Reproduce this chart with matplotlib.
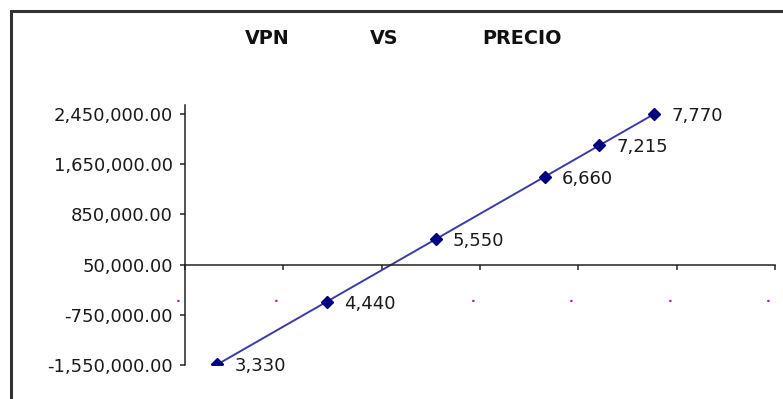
import matplotlib
matplotlib.use("Agg")
import matplotlib.pyplot as plt
from matplotlib.patches import Rectangle
from matplotlib.ticker import FuncFormatter

# precio de venta vs valor presente neto
precio = [3330, 4440, 5550, 6660, 7215, 7770]
vpn = [-1540000, -542000, 456000, 1453000, 1952000, 2450000]
etiquetas = ["3,330", "4,440", "5,550", "6,660", "7,215", "7,770"]
y_ticks = [-1550000, -750000, 50000, 850000, 1650000, 2450000]
x_ticks = [3000, 4000, 5000, 6000, 7000, 8000, 9000]
# el punto de 5000 queda tapado por la etiqueta 4,440
x_puntos = [3000, 4000, 6000, 7000, 8000, 9000]

plt.rcParams['font.family'] = ['DejaVu Sans']

fig = plt.figure(figsize=(7.83, 3.99), dpi=100)
fig.patch.set_facecolor("white")

# marco exterior del grafico (se sale por la derecha y abajo)
fig.add_artist(Rectangle((10.5 / 783, -0.1), 1.2, 1.1 - 11.5 / 399,
                         transform=fig.transFigure, fill=False,
                         edgecolor="#333333", linewidth=2.2))

ax = fig.add_axes([185 / 783, 1 - 365 / 399, (775 - 185) / 783, (365 - 105) / 399])

ax.plot(precio, vpn, color="#3b3ba8", linewidth=1.4, marker="D",
        markersize=6, markerfacecolor="#000080", markeredgecolor="#000080")

for x, y, t in zip(precio, vpn, etiquetas):
    ax.annotate(t, xy=(x, y), xytext=(17, -2), textcoords="offset pixels",
                ha="left", va="center", fontsize=13, color="#1a1a1a")

ax.set_xlim(3000, 9000)
ax.set_ylim(-1550000, 2595000)
ax.set_yticks(y_ticks)
ax.yaxis.set_major_formatter(FuncFormatter(lambda v, p: f"{v:,.2f}"))
ax.set_xticks(x_ticks)
ax.set_xticklabels([])

ax.spines["top"].set_visible(False)
ax.spines["right"].set_visible(False)
ax.spines["bottom"].set_position(("data", 50000))
for s in ("left", "bottom"):
    ax.spines[s].set_color("#222222")
    ax.spines[s].set_linewidth(1.1)

ax.tick_params(axis="y", direction="out", length=3.6, width=1.1,
               color="#222222", pad=5, labelsize=13, labelcolor="#1a1a1a")
ax.tick_params(axis="x", direction="out", length=3.5, width=1.1,
               color="#222222")

# etiquetas del eje x: solo un punto visible
for t in x_puntos:
    ax.annotate(".", xy=(t, 50000), xytext=(-7, -34), textcoords="offset pixels",
                ha="center", va="center", fontsize=9, fontweight="bold",
                color="#b0209a")

# titulo en tres partes
for txt, xp in (("VPN", 267), ("VS", 384), ("PRECIO", 522)):
    fig.text(xp / 783, 1 - 39 / 399, txt, ha="center", va="center",
             fontsize=13.8, fontweight="bold", color="#111111")

fig.savefig("out.png", dpi=100, facecolor="white")
